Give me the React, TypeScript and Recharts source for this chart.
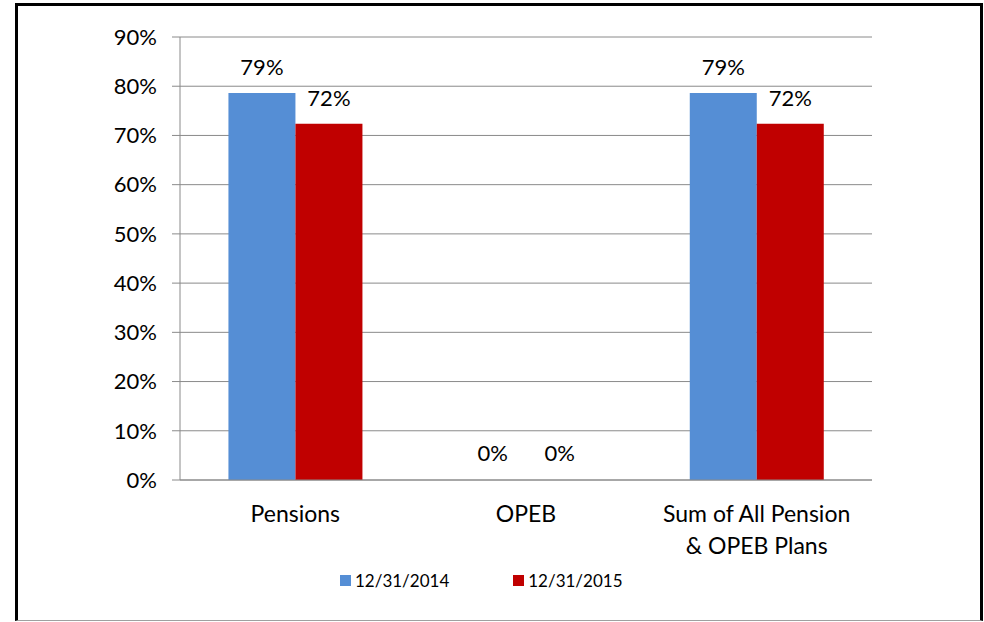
import React from 'react';
import {
  BarChart,
  Bar,
  Cell,
  XAxis,
  YAxis,
  CartesianGrid,
  LabelList,
  Legend,
} from 'recharts';

const categories = ['Pensions', 'OPEB', 'Sum of All Pension & OPEB Plans'];
const funded2014 = [78.6, 0, 78.6];
const funded2015 = [72.4, 0, 72.4];
const yTicks = [0, 10, 20, 30, 40, 50, 60, 70, 80, 90];
const edgeTicks = [0, 1, 2, 3];

const BLUE = '#558ED5';
const RED = '#C00000';
const GRID = '#8A8A8A';
const FONT = 'Lato, "Open Sans", sans-serif';

const data = categories.map((name, i) => ({
  name,
  y2014: funded2014[i],
  y2015: funded2015[i],
}));

const pct = (v: number) => `${Math.round(v)}%`;

// simple word wrap by character count
const wrap = (s: string, max: number) => {
  const lines: string[] = [];
  let cur = '';
  s.split(' ').forEach((w) => {
    const next = cur ? `${cur} ${w}` : w;
    if (next.length > max && cur) {
      lines.push(cur);
      cur = w;
    } else {
      cur = next;
    }
  });
  if (cur) lines.push(cur);
  return lines;
};

const CategoryTick = (props: any) => {
  const { x, y, payload } = props;
  const lines = wrap(String(payload.value), 18);
  return (
    <text x={x} y={y} textAnchor="middle" fill="#000" fontSize={23} fontFamily={FONT}>
      {lines.map((line, i) => (
        <tspan key={i} x={x} dy={i === 0 ? 34 : 32}>
          {line}
        </tspan>
      ))}
    </text>
  );
};

const LegendContent = () => (
  <div style={{ display: 'flex', fontFamily: FONT, fontSize: 17, color: '#000' }}>
    {[
      { label: '12/31/2014', color: BLUE },
      { label: '12/31/2015', color: RED },
    ].map((item, i) => (
      <div key={item.label} style={{ display: 'flex', alignItems: 'center', marginLeft: i ? 64 : 0 }}>
        <div style={{ width: 11, height: 11, backgroundColor: item.color, marginRight: 4 }} />
        <span>{item.label}</span>
      </div>
    ))}
  </div>
);

export default function App() {
  return (
    <div style={{ position: 'absolute', left: 0, top: 0, width: 984, height: 622, background: '#fff' }}>
      {/* frame */}
      <div
        style={{
          position: 'absolute',
          left: 15,
          top: 3,
          width: 962,
          height: 614,
          borderTop: '3px solid #000',
          borderLeft: '3px solid #000',
          borderRight: '3px solid #000',
          borderBottom: '1px solid #a0a0a0',
          boxSizing: 'content-box',
        }}
      />
      <div style={{ position: 'absolute', left: 0, top: 0 }}>
        <BarChart
          width={984}
          height={622}
          data={data}
          margin={{ top: 37, right: 112, left: 0, bottom: 62 }}
          barCategoryGap="21%"
          barGap={0}
          style={{ fontFamily: FONT }}
        >
          <CartesianGrid vertical={false} stroke={GRID} />
          <XAxis
            xAxisId="edge"
            type="number"
            domain={[0, 3]}
            ticks={edgeTicks}
            height={0}
            axisLine={false}
            tickLine={{ stroke: GRID }}
            tickSize={8}
            tickFormatter={() => ''}
          />
          <XAxis
            xAxisId="cat"
            dataKey="name"
            height={80}
            axisLine={{ stroke: GRID }}
            tickLine={false}
            tick={<CategoryTick />}
            interval={0}
          />
          <YAxis
            width={180}
            domain={[0, 90]}
            ticks={yTicks}
            tickFormatter={(v: number) => `${v}%`}
            axisLine={{ stroke: GRID }}
            tickLine={{ stroke: GRID }}
            tickSize={8}
            tickMargin={15}
            tick={{ fontSize: 22, fill: '#000', fontFamily: FONT }}
          />
          <Legend
            layout="horizontal"
            verticalAlign="middle"
            align="center"
            content={<LegendContent />}
            wrapperStyle={{ top: 570, left: 340, width: 400, height: 22 }}
          />
          <Bar xAxisId="cat" dataKey="y2014" fill={BLUE} minPointSize={1} isAnimationActive={false}>
            {funded2014.map((v, i) => (
              <Cell key={i} fill={v === 0 ? 'transparent' : BLUE} />
            ))}
            <LabelList dataKey="y2014" position="top" offset={18} formatter={pct} fontSize={22} fill="#000" fontFamily={FONT} />
          </Bar>
          <Bar xAxisId="cat" dataKey="y2015" fill={RED} minPointSize={1} isAnimationActive={false}>
            {funded2015.map((v, i) => (
              <Cell key={i} fill={v === 0 ? 'transparent' : RED} />
            ))}
            <LabelList dataKey="y2015" position="top" offset={18} formatter={pct} fontSize={22} fill="#000" fontFamily={FONT} />
          </Bar>
        </BarChart>
      </div>
    </div>
  );
}
